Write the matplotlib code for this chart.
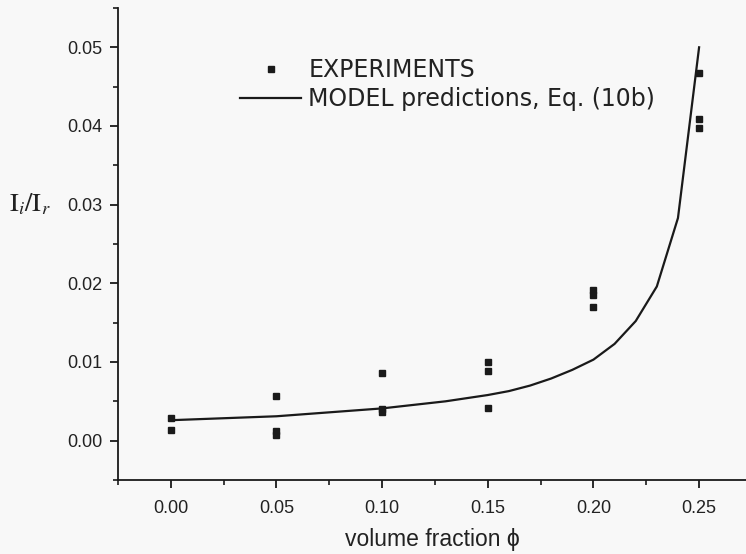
import matplotlib
matplotlib.use('Agg')
import matplotlib.pyplot as plt
from matplotlib.ticker import MultipleLocator
import numpy as np

# measured points (several repeats per volume fraction)
expPhi = [0.00, 0.00,
          0.05, 0.05, 0.05,
          0.10, 0.10, 0.10,
          0.15, 0.15, 0.15,
          0.20, 0.20, 0.20,
          0.25, 0.25, 0.25]
expRatio = [0.0029, 0.0013,
            0.0057, 0.0012, 0.0007,
            0.0086, 0.0040, 0.0036,
            0.0100, 0.0089, 0.0042,
            0.0192, 0.0185, 0.0170,
            0.0467, 0.0409, 0.0398]

# model curve, Eq. (10b)
modelPhi = [0.00, 0.01, 0.02, 0.03, 0.04, 0.05, 0.06, 0.07, 0.08, 0.09,
            0.10, 0.11, 0.12, 0.13, 0.14, 0.15, 0.16, 0.17, 0.18, 0.19,
            0.20, 0.21, 0.22, 0.23, 0.24, 0.25]
modelRatio = [0.0026, 0.0027, 0.0028, 0.0029, 0.0030, 0.0031, 0.0033, 0.0035, 0.0037, 0.0039,
              0.0041, 0.0044, 0.0047, 0.0050, 0.0054, 0.0058, 0.0063, 0.0070, 0.0079, 0.0090,
              0.0103, 0.0123, 0.0152, 0.0196, 0.0283, 0.0500]

xTicks = [0.00, 0.05, 0.10, 0.15, 0.20, 0.25]
yTicks = [0.00, 0.01, 0.02, 0.03, 0.04, 0.05]

bg = '#f8f8f8'
ink = '#1a1a1a'
txt = '#222222'

plt.rcParams['font.family'] = ['Liberation Sans', 'DejaVu Sans']
plt.rcParams['mathtext.fontset'] = 'stix'

fig = plt.figure(figsize=(7.46, 5.54), dpi=100)
fig.patch.set_facecolor(bg)
ax = fig.add_axes([0.1582, 0.1336, 0.8418, 0.852])
ax.set_facecolor(bg)

ax.plot(expPhi, expRatio, linestyle='none', marker='s', markersize=4.4,
        color=ink, label='EXPERIMENTS')
ax.plot(modelPhi, modelRatio, color=ink, linewidth=1.6,
        label='MODEL predictions, Eq. (10b)')

ax.set_xlim(-0.025, 0.2722)
ax.set_ylim(-0.005, 0.055)

ax.set_xticks(xTicks)
ax.set_xticklabels(['%.2f' % t for t in xTicks])
ax.set_yticks(yTicks)
ax.set_yticklabels(['%.2f' % t for t in yTicks])
ax.xaxis.set_minor_locator(MultipleLocator(0.025))
ax.yaxis.set_minor_locator(MultipleLocator(0.005))

for side in ['top', 'right']:
    ax.spines[side].set_visible(False)
for side in ['left', 'bottom']:
    ax.spines[side].set_linewidth(1.3)
    ax.spines[side].set_color(ink)

ax.tick_params(which='major', length=6, width=1.3, color=ink, labelsize=13,
               labelcolor=txt)
ax.tick_params(axis='x', which='major', pad=8.5)
ax.tick_params(axis='y', which='major', pad=5)
ax.tick_params(which='minor', length=3.5, width=1.2, color=ink)

ax.set_xlabel('volume fraction ϕ', fontsize=16.5, color=txt, labelpad=8)
fig.text(0.012, 1 - 204 / 554.0, '$\\mathrm{I}_{i}/\\mathrm{I}_{r}$', fontsize=19,
         va='center', ha='left', color=txt)

leg = ax.legend(loc='upper left', bbox_to_anchor=(240 / 746.0, 1 - 58 / 554.0),
                bbox_transform=fig.transFigure, frameon=False,
                prop={'family': 'DejaVu Sans', 'size': 17},
                handlelength=2.6, handletextpad=0.3, labelspacing=0.22,
                borderpad=0, borderaxespad=0)
for t in leg.get_texts():
    t.set_color(txt)

plt.savefig('out.png', dpi=100, facecolor=fig.get_facecolor())
plt.close()
